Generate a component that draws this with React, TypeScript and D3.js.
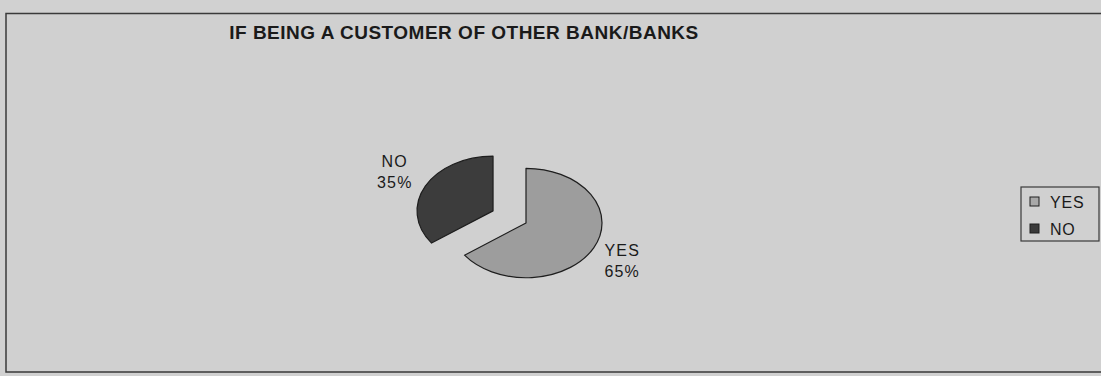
import React from "react";
import * as d3 from "d3";

const categories = ["YES", "NO"];
const values = [65, 35];
const title = "IF BEING A CUSTOMER OF OTHER BANK/BANKS";

const W = 1101;
const H = 376;
const R = 76;
const YS = 0.72;
const CX = 526;
const CY = 223;
const EXPLODE = [0, 37];
const LABEL_R = 108;
const LABEL_DX = [0, -2];
const LABEL_DY = [0, -7];
const fills = ["#9d9d9d", "#3c3c3c"];
const legendFills = ["#a8a8a8", "#3a3a3a"];

export default function App() {
  const pie = d3.pie<number>().sort(null).startAngle(0).endAngle(2 * Math.PI);
  const arcs = pie(values);
  const arc = d3.arc<d3.PieArcDatum<number>>().innerRadius(0).outerRadius(R);
  const total = d3.sum(values);

  return (
    <div style={{ position: "fixed", left: 0, top: 0 }}>
      <svg width={W} height={H} style={{ display: "block", fontFamily: "'Liberation Sans', Arial, sans-serif" }}>
        <rect x={0} y={0} width={W} height={H} fill="#d1d1d1" />
        <rect x={6} y={13.5} width={1102} height={358.5} fill="#d0d0d0" stroke="#3a3a3a" strokeWidth={1.5} />
        <text x={464} y={39} textAnchor="middle" fontSize={19} fontWeight="bold" letterSpacing={0.5} fill="#1a1a1a">
          {title}
        </text>
        {arcs.map((a, i) => {
          const mid = (a.startAngle + a.endAngle) / 2;
          const d = EXPLODE[i];
          const ox = Math.sin(mid) * d;
          const oy = -Math.cos(mid) * d * YS;
          const lx = CX + ox + Math.sin(mid) * LABEL_R + LABEL_DX[i];
          const ly = CY + oy - Math.cos(mid) * LABEL_R * YS + LABEL_DY[i];
          const pct = Math.round((values[i] / total) * 100) + "%";
          return (
            <g key={categories[i]}>
              <g transform={`translate(${CX + ox},${CY + oy}) scale(1,${YS})`}>
                <path
                  d={arc(a) || ""}
                  fill={fills[i]}
                  stroke="#1e1e1e"
                  strokeWidth={1.2}
                  vectorEffect="non-scaling-stroke"
                  strokeLinejoin="round"
                />
              </g>
              <text x={lx} y={ly - 2} textAnchor="middle" fontSize={16} letterSpacing={1.2} fill="#1a1a1a">
                {categories[i]}
              </text>
              <text x={lx} y={ly + 19} textAnchor="middle" fontSize={16} letterSpacing={1.2} fill="#1a1a1a">
                {pct}
              </text>
            </g>
          );
        })}
        <rect x={1021} y={187} width={78} height={54} fill="#d0d0d0" stroke="#3a3a3a" strokeWidth={1.2} />
        {categories.map((c, i) => (
          <g key={c} transform={`translate(1030,${197 + i * 27})`}>
            <rect x={0} y={0} width={9} height={9} fill={legendFills[i]} stroke="#1e1e1e" strokeWidth={1} />
            <text x={20} y={11} fontSize={16} letterSpacing={0.8} fill="#1a1a1a">
              {c}
            </text>
          </g>
        ))}
      </svg>
    </div>
  );
}
